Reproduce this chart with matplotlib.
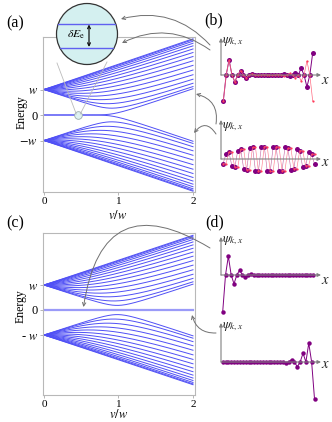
import numpy as np
import matplotlib
matplotlib.use("Agg")
import matplotlib.pyplot as plt
from matplotlib.patches import Circle, FancyArrowPatch

plt.rcParams['mathtext.fontset'] = 'stix'
plt.rcParams['font.family'] = ['Liberation Serif', 'DejaVu Serif']

# ---------------- data ----------------
N_CELLS = 16                      # unit cells of the SSH chain
W_HOP = 1.0                       # inter-cell hopping w
V_GRID = np.linspace(0.0, 2.0, 241)   # v/w axis samples
X_TICKS = [0, 1, 2]
X_TICKLABELS = ['0', '1', '2']
Y_TICKS = [-1, 0, 1]
Y_TICKLABELS_A = ['$-w$', '0', '$w$']
Y_TICKLABELS_C = ['- $w$', '0', '$w$']
ZOOM_V = 0.46                     # v/w of the zoomed near-zero level in (a)
ARROW_V_C = 0.53                  # v/w pointed at in (c)

# wavefunction amplitudes (b) and (d)
PSI_B_EDGE_PURPLE = [-0.65, 0, 0.38, 0, -0.17, 0, 0.11, 0, -0.07, 0, 0.03, 0, -0.01, 0, 0.01, 0,
                     0, 0.01, 0, -0.01, 0, 0.02, 0, -0.03, 0, 0.06, 0, 0.17, 0, -0.30, 0, 0.55]
PSI_B_EDGE_RED = [-0.65, 0, 0.38, 0, -0.17, 0, 0.11, 0, -0.07, 0, 0.03, 0, -0.01, 0, 0.01, 0,
                  0, -0.01, 0, 0.01, 0, -0.02, 0, 0.04, 0, -0.08, 0, -0.15, 0, 0.35, 0, -0.65]
PSI_B_BULK_PURPLE = [-0.12, 0.12, 0.17, -0.17, -0.21, 0.21, 0.24, -0.24, -0.27, 0.27, 0.29, -0.29,
                     -0.30, 0.30, 0.31, -0.31, -0.31, 0.31, 0.30, -0.30, -0.29, 0.29, 0.27, -0.27,
                     -0.24, 0.24, 0.21, -0.21, -0.17, 0.17, 0.12, -0.12]
PSI_B_BULK_RED = [-0.12, -0.12, 0.17, 0.17, -0.21, -0.21, 0.24, 0.24, -0.27, -0.27, 0.29, 0.29,
                  -0.30, -0.30, 0.31, 0.31, -0.31, -0.31, 0.30, 0.30, -0.29, -0.29, 0.27, 0.27,
                  -0.24, -0.24, 0.21, 0.21, -0.17, -0.17, 0.12, 0.12]
PSI_D_LEFT = [-0.92, 0, 0.47, 0, -0.22, 0, 0.12, 0, -0.06, 0, 0.03, 0, -0.01, 0, 0, 0, 0,
              0, 0, 0, 0, 0, 0, 0, 0, 0, 0, 0, 0, 0, 0, 0, 0]
PSI_D_RIGHT = [0, 0, 0, 0, 0, 0, 0, 0, 0, 0, 0, 0, 0, 0, 0, 0, 0, 0, 0, 0, 0.01, 0,
               -0.03, 0, 0.06, 0, -0.12, 0, 0.22, 0, 0.47, 0, -0.92]

FW, FH = 332, 422
BAND_COLOR = '#5050f5'
PURPLE = '#800080'
GRAY = '#808080'

fig = plt.figure(figsize=(FW / 100, FH / 100), dpi=100)


def px_axes(x0, y0, x1, y1, **kw):
    return fig.add_axes([x0 / FW, 1 - y1 / FH, (x1 - x0) / FW, (y1 - y0) / FH], **kw)


def ssh_levels(n_sites, v):
    h = np.zeros((n_sites, n_sites))
    for i in range(n_sites - 1):
        t = v if i % 2 == 0 else W_HOP
        h[i, i + 1] = h[i + 1, i] = t
    return np.linalg.eigvalsh(h)


E_A = np.array([ssh_levels(2 * N_CELLS, v) for v in V_GRID])
E_C = np.array([ssh_levels(2 * N_CELLS + 1, v) for v in V_GRID])


def style_band_axes(ax, yticklabels):
    for s in ax.spines.values():
        s.set_color('#b8b8b8')
        s.set_linewidth(0.8)
    ax.set_xticks(X_TICKS)
    ax.set_xticklabels(X_TICKLABELS)
    ax.set_yticks(Y_TICKS)
    ax.set_yticklabels(yticklabels)
    ax.tick_params(length=2, width=0.6, color='#aaaaaa', labelsize=8, pad=1.5)
    ax.tick_params(axis='y', labelsize=9)


# ---------------- panel (a) ----------------
ax_a = px_axes(43, 37, 195, 192)
ax_a.set_xlim(-1 / 74.5, 2 + 2 / 74.5)
ax_a.set_ylim(-77 / 25.5, 78 / 25.5)
for j in range(E_A.shape[1]):
    ax_a.plot(V_GRID, E_A[:, j], color=BAND_COLOR, lw=0.7)
style_band_axes(ax_a, Y_TICKLABELS_A)
ax_a.plot([ZOOM_V], [0], 'o', ms=5.5, mfc='#dff2f2', mec='#9aaaaa', mew=0.6, zorder=5)

# ---------------- panel (c) ----------------
ax_c = px_axes(43, 233, 195, 395)
ax_c.set_xlim(-1 / 74.5, 2 + 2 / 74.5)
ax_c.set_ylim(-85 / 25.0, 77 / 25.0)
mid = E_C.shape[1] // 2
for j in range(E_C.shape[1]):
    if j == mid:
        ax_c.plot(V_GRID, E_C[:, j], color='#9a9af8', lw=1.6)
    else:
        ax_c.plot(V_GRID, E_C[:, j], color=BAND_COLOR, lw=0.7)
style_band_axes(ax_c, Y_TICKLABELS_C)

# ---------------- wavefunction insets ----------------
PSI_PX = 40.0


def psi_inset(y_axis, y_top, y_bot, first_x, last_x, series, ylab_y, xlab_y, yarrow_top):
    n = len(series[0][0])
    dx = (last_x - first_x) / (n - 1)
    x0, x1 = 214, 332
    ax = px_axes(x0, y_top, x1, y_bot)
    ax.set_xlim((x0 - first_x) / dx, (x1 - first_x) / dx)
    ax.set_ylim((y_axis - y_bot) / PSI_PX, (y_axis - y_top) / PSI_PX)
    ax.axis('off')
    xa = (221 - first_x) / dx
    xe = (321 - first_x) / dx
    ax.annotate('', xy=(xe, 0), xytext=(xa, 0),
                arrowprops=dict(arrowstyle='-|>', color=GRAY, lw=0.8, mutation_scale=5, shrinkA=0, shrinkB=0))
    ax.annotate('', xy=(xa, (y_axis - yarrow_top) / PSI_PX), xytext=(xa, 0),
                arrowprops=dict(arrowstyle='-|>', color=GRAY, lw=0.8, mutation_scale=5, shrinkA=0, shrinkB=0))
    idx = np.arange(n)
    for vals, col, lcol, ms, lw in series:
        if lw > 0:
            ax.plot(idx, vals, '-', color=lcol, lw=lw, clip_on=False)
        ax.plot(idx, vals, 'o', color=col, ms=ms, mec='none', clip_on=False)
    fig.text(222 / FW, 1 - ylab_y / FH, r'$\psi_{k,x}$', fontsize=9.5, va='center', ha='left', color='#222222')
    fig.text(325 / FW, 1 - xlab_y / FH, r'$x$', fontsize=10.5, va='center', ha='center', color='#222222')
    return ax


psi_inset(75, 35, 108, 223.3, 312.7,
          [(PSI_B_EDGE_PURPLE, PURPLE, PURPLE, 3.6, 0.7),
           (PSI_B_EDGE_RED, '#ff3a5a', '#ff6a80', 1.6, 0.5)], 42, 80, 38)
psi_inset(159, 115, 180, 223.0, 314.5,
          [(PSI_B_BULK_PURPLE, PURPLE, '#c060a0', 3.6, 0.4),
           (PSI_B_BULK_RED, '#ff3a5a', '#ff8090', 1.6, 0.45)], 127, 163, 120)
psi_inset(275, 235, 318, 222.7, 313.0,
          [(PSI_D_LEFT, PURPLE, PURPLE, 3.2, 0.7)], 241, 280, 237)
psi_inset(362, 320, 402, 222.7, 314.5,
          [(PSI_D_RIGHT, PURPLE, PURPLE, 3.2, 0.7)], 327, 365, 323)

# ---------------- overlay (zoom circle, arrows, labels) ----------------
ov = fig.add_axes([0, 0, 1, 1], zorder=20)
ov.set_xlim(0, FW)
ov.set_ylim(FH, 0)
ov.axis('off')


def data_to_px(ax, x, y):
    X, Y = ax.transData.transform((x, y))
    return X, FH - Y


zx, zy = data_to_px(ax_a, ZOOM_V, 0)
ov.plot([57, zx - 2], [63, zy - 1], color='#bbbbbb', lw=0.6)
ov.plot([107, zx + 2], [62, zy - 1], color='#bbbbbb', lw=0.6)
circ = Circle((87, 34), 30.5, facecolor='#d4f0f0', edgecolor='#333333', lw=0.9, zorder=3)
ov.add_patch(circ)
for yy in (24, 47.5):
    ln, = ov.plot([50, 125], [yy, yy], color='#6060f0', lw=1.0, zorder=4)
    ln.set_clip_path(circ)
ov.text(76, 35, r'$\delta E_{\rm e}$', fontsize=8.5, ha='center', va='center', zorder=5)
ov.annotate('', xy=(89, 24.5), xytext=(89, 47),
            arrowprops=dict(arrowstyle='<->', color='#111111', lw=0.9, mutation_scale=5, shrinkA=0, shrinkB=0),
            zorder=5)


def curved(p0, p1, rad):
    # rad is applied in display space (y up)
    a = FancyArrowPatch((p0[0], p0[1]), (p1[0], p1[1]), connectionstyle=f'arc3,rad={rad}',
                        arrowstyle='->', mutation_scale=6, color='#707070', lw=0.7,
                        shrinkA=0, shrinkB=0, zorder=6)
    ov.add_patch(a)


curved((210, 45), (121, 19), 0.3)
curved((210, 50), (122, 43), 0.3)
curved((216, 124), (196, 94), 0.45)
curved((216, 134), (194, 133), 0.7)
cx, cy = data_to_px(ax_c, ARROW_V_C, 0)
curved((210, 248), (cx, cy - 3), 0.75)
dx_, dy_ = data_to_px(ax_c, 2.0, 0)
curved((216, 333), (dx_ - 1, dy_ + 5), -0.4)

# labels
for (x, y, s) in [(15, 23, '(a)'), (214, 20, '(b)'), (15, 223, '(c)'), (215, 222, '(d)')]:
    ov.text(x, y, s, fontsize=11.5, ha='center', va='center')
ov.text(22, 112, 'Energy', fontsize=8.5, rotation=90, ha='center', va='center')
ov.text(21, 306, 'Energy', fontsize=8.5, rotation=90, ha='center', va='center')
ov.text(118, 215.5, r'$v/w$', fontsize=9, ha='center', va='center')
ov.text(119, 415, r'$v/w$', fontsize=9, ha='center', va='center')

fig.savefig('out.png', dpi=100)
